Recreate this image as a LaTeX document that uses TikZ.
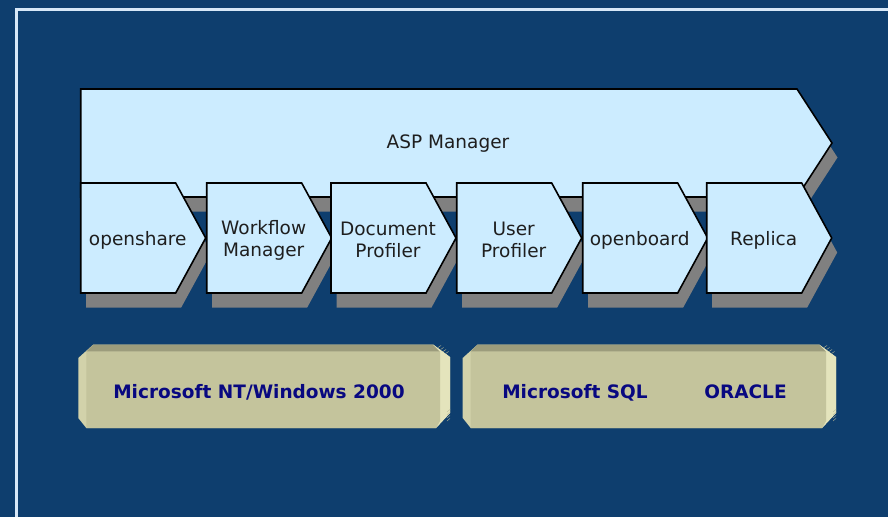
\documentclass[tikz,border=0pt]{standalone}
\usepackage{fontspec}
\setmainfont{DejaVu Sans}
\definecolor{bgnavy}{RGB}{14,62,110}
\definecolor{framec}{RGB}{215,232,248}
\definecolor{boxfill}{RGB}{204,236,255}
\definecolor{shadowc}{RGB}{128,128,128}
\definecolor{boxtext}{RGB}{30,30,30}
\definecolor{slabface}{RGB}{196,196,156}
\definecolor{slabtop}{RGB}{156,156,124}
\definecolor{slableft}{RGB}{210,210,170}
\definecolor{slabright}{RGB}{228,228,188}
\definecolor{slabtext}{RGB}{8,8,128}
\tikzset{
  chevshadow/.style={fill=shadowc},
  chevbox/.style={fill=boxfill, draw=black, line width=1.6pt, line join=miter},
  boxlabel/.style={text=boxtext, font=\fontsize{18.5}{22}\selectfont, align=center, inner sep=0pt},
  slablabel/.style={text=slabtext, font=\fontsize{18.5}{22}\selectfont\bfseries, inner sep=0pt, anchor=base},
}
\newcommand\myslab[2]{%
  % #1 left x, #2 right x
  \fill[slableft] (#1,358) -- ({#1+15},344.5) -- ({#2-17},344.5) -- (#2,357) -- (#2,413) -- ({#2-14},428) -- ({#1+8},428) -- (#1,418) -- cycle;
  \fill[slabtop] ({#1+8},351.5) -- ({#1+15},344.5) -- ({#2-17},344.5) -- ({#2-10},351.5) -- cycle;
  \fill[slabright] ({#2-10},351.5) -- ({#2-17},344.5) -- (#2,357) -- (#2,413) -- ({#2-14},428) -- ({#2-10},421) -- cycle;
  \fill[slabface] ({#1+8},351.5) -- ({#2-10},351.5) -- ({#2-10},421) -- ({#2-14},428) -- ({#1+8},428) -- cycle;
  \foreach \k in {0,1,2,3}{
    \draw[slabtop!60!slabright, line width=0.4pt] ({#2-12+\k*2.5},{347.5+\k*2}) -- ++(3,-2);
    \draw[slabtop!60!slabright, line width=0.4pt] ({#2-3},{412+\k*3}) -- ++(3,-2.5);
  }
}
\begin{document}
\begin{tikzpicture}[x=1pt, y=-1pt]
\useasboundingbox (0,0) rectangle (888,517);
\fill[bgnavy] (0,0) rectangle (888,517);
% frame
\draw[framec, line width=2.2pt] (16.5,517) -- (16.5,9.5) -- (888,9.5);
% big ASP Manager chevron
\fill[chevshadow] (86.2,103.5) -- (802.5,103.5) -- (837.5,157.5) -- (802.5,211.5) -- (86.2,211.5) -- cycle;
\draw[chevbox] (80.7,89) -- (797,89) -- (832,143) -- (797,197) -- (80.7,197) -- cycle;
\node[boxlabel] (asp) at (448,144) {ASP Manager};
% small chevrons
\foreach \L/\nm/\txt in {80.7/os/{openshare}, 206.7/wf/{Workflow\\Manager}, 331/dp/{Document\\Profiler}, 456.7/up/{User\\Profiler}, 582.7/ob/{openboard}, 706.7/rp/{Replica}}{
  \fill[chevshadow] ({\L+5.5},197.5) -- ++(95,0) -- ++(30,55) -- ++(-30,55) -- ++(-95,0) -- cycle;
  \draw[chevbox] (\L,183) -- ++(95,0) -- ++(30,55) -- ++(-30,55) -- ++(-95,0) -- cycle;
  \node[boxlabel] (\nm) at ({\L+57},240) {\txt};
}
% slabs
\myslab{78.3}{450}
\myslab{462.7}{836}
\node[slablabel] (nt) at (259,398.5) {Microsoft NT/Windows 2000};
\node[slablabel] (sql) at (575,398.5) {Microsoft SQL};
\node[slablabel] (ora) at (745.5,398.5) {ORACLE};
\end{tikzpicture}
\end{document}
